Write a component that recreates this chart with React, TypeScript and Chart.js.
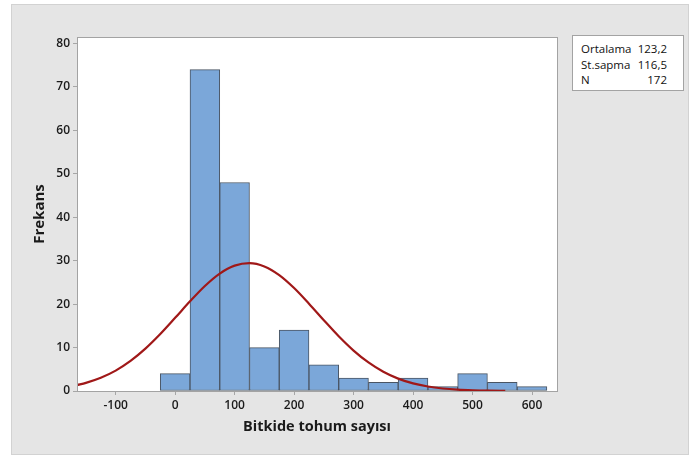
import React, { useEffect, useRef } from "react";
import { Chart, registerables } from "chart.js";

Chart.register(...registerables);

// Histogram bins (centres) and frequencies
const binCenters = [0, 50, 100, 150, 200, 250, 300, 350, 400, 450, 500, 550, 600];
const frequencies = [4, 74, 48, 10, 14, 6, 3, 2, 3, 1, 4, 2, 1];

// Fitted normal curve
const curveX = [-165, -150, -125, -100, -75, -50, -25, 0, 25, 50, 75, 100, 125, 150, 175, 200, 225, 250, 275, 300, 325, 350, 375, 400, 425, 450, 475, 500, 525, 555];
const curveY = [1.38, 1.88, 3.05, 4.7, 6.93, 9.75, 13.11, 16.84, 20.64, 24.18, 27.04, 28.87, 29.45, 28.68, 26.68, 23.7, 20.1, 16.29, 12.6, 9.31, 6.57, 4.43, 2.85, 1.75, 1.03, 0.58, 0.31, 0.16, 0.08, 0.04];

// Axis ticks
const xTickValues = [-100, 0, 100, 200, 300, 400, 500, 600];
const yTickValues = [0, 10, 20, 30, 40, 50, 60, 70, 80];

// Summary box
const statLabels = ["Ortalama", "St.sapma", "N"];
const statValues = ["123,2", "116,5", "172"];

const FONT = "'Open Sans', 'Noto Sans', sans-serif";

export default function App() {
  const canvasRef = useRef<HTMLCanvasElement | null>(null);

  useEffect(() => {
    const canvas = canvasRef.current;
    if (!canvas) return;

    const areaPlugin = {
      id: "areaPlugin",
      beforeDatasetsDraw(chart: any) {
        const { ctx, chartArea } = chart;
        ctx.save();
        ctx.fillStyle = "#ffffff";
        ctx.fillRect(chartArea.left, chartArea.top, chartArea.right - chartArea.left, chartArea.bottom - chartArea.top);
        ctx.restore();
      },
      afterDatasetsDraw(chart: any) {
        const { ctx, chartArea } = chart;
        ctx.save();
        ctx.strokeStyle = "#a3a3a3";
        ctx.lineWidth = 1;
        ctx.strokeRect(
          Math.round(chartArea.left) + 0.5,
          Math.round(chartArea.top) + 0.5,
          Math.round(chartArea.right - chartArea.left),
          Math.round(chartArea.bottom - chartArea.top)
        );
        ctx.restore();
      },
    };

    const chart = new Chart(canvas, {
      type: "bar",
      data: {
        datasets: [
          {
            type: "line",
            data: curveX.map((x, i) => ({ x, y: curveY[i] })),
            borderColor: "#a01818",
            borderWidth: 2.2,
            pointRadius: 0,
            tension: 0.4,
            cubicInterpolationMode: "monotone",
            fill: false,
            order: 0,
          } as any,
          {
            type: "bar",
            data: binCenters.map((x, i) => ({ x, y: frequencies[i] })),
            backgroundColor: "#7ba7d9",
            borderColor: "#4a5563",
            borderWidth: 1,
            borderSkipped: false,
            barPercentage: 1,
            categoryPercentage: 1,
            order: 1,
          } as any,
        ],
      },
      options: {
        responsive: false,
        animation: false,
        devicePixelRatio: 1,
        layout: { padding: { left: 0, top: 37, right: 137, bottom: 0 } },
        plugins: {
          legend: { display: false },
          tooltip: { enabled: false },
        },
        scales: {
          x: {
            type: "linear",
            min: -165,
            max: 642,
            offset: false,
            grid: { offset: false, drawOnChartArea: false, color: "#a6a6a6", tickLength: 4 },
            border: { display: false },
            ticks: {
              color: "#1a1a1a",
              font: { family: FONT, size: 12, weight: "600" },
              padding: 3,
              maxRotation: 0,
              autoSkip: false,
            },
            afterBuildTicks: (s: any) => {
              s.ticks = xTickValues.map((v) => ({ value: v }));
            },
            afterFit: (s: any) => {
              s.height = 67;
            },
            title: {
              display: true,
              text: "Bitkide tohum sayısı",
              color: "#1a1a1a",
              font: { family: FONT, size: 14.5, weight: "bold" },
              padding: { top: 0, bottom: 22 },
            },
          } as any,
          y: {
            type: "linear",
            min: 0,
            max: 81.5,
            grid: { drawOnChartArea: false, color: "#a6a6a6", tickLength: 4 },
            border: { display: false },
            ticks: {
              color: "#1a1a1a",
              font: { family: FONT, size: 12, weight: "600" },
              padding: 3,
            },
            afterBuildTicks: (s: any) => {
              s.ticks = yTickValues.map((v) => ({ value: v }));
            },
            afterFit: (s: any) => {
              s.width = 77;
            },
            title: {
              display: true,
              text: "Frekans",
              color: "#1a1a1a",
              font: { family: FONT, size: 15, weight: "bold" },
              padding: { top: 31, bottom: 0 },
            },
          } as any,
        },
      },
      plugins: [areaPlugin],
    } as any);

    return () => chart.destroy();
  }, []);

  return (
    <div style={{ position: "fixed", left: 0, top: 0, width: 694, height: 458, background: "#ffffff", overflow: "hidden" }}>
      <div
        style={{
          position: "absolute",
          left: 11,
          top: 4,
          width: 676,
          height: 449,
          background: "#e5e5e5",
          border: "1px solid #d2d2d2",
        }}
      />
      <canvas ref={canvasRef} width={694} height={458} style={{ position: "absolute", left: 0, top: 0, width: 694, height: 458 }} />
      <div
        style={{
          position: "absolute",
          left: 572,
          top: 35,
          width: 110,
          height: 54,
          background: "#ffffff",
          border: "1px solid #a3a3a3",
          fontFamily: FONT,
          fontSize: 11.5,
          color: "#111111",
          boxSizing: "content-box",
        }}
      >
        <div
          style={{
            position: "absolute",
            left: 8,
            top: 5,
            width: 86,
            display: "grid",
            gridTemplateColumns: "auto auto",
            columnGap: 4,
            lineHeight: "15.5px",
          }}
        >
          {statLabels.map((label, i) => (
            <React.Fragment key={label}>
              <div style={{ textAlign: "left", whiteSpace: "nowrap" }}>{label}</div>
              <div style={{ textAlign: "right", whiteSpace: "nowrap" }}>{statValues[i]}</div>
            </React.Fragment>
          ))}
        </div>
      </div>
    </div>
  );
}
